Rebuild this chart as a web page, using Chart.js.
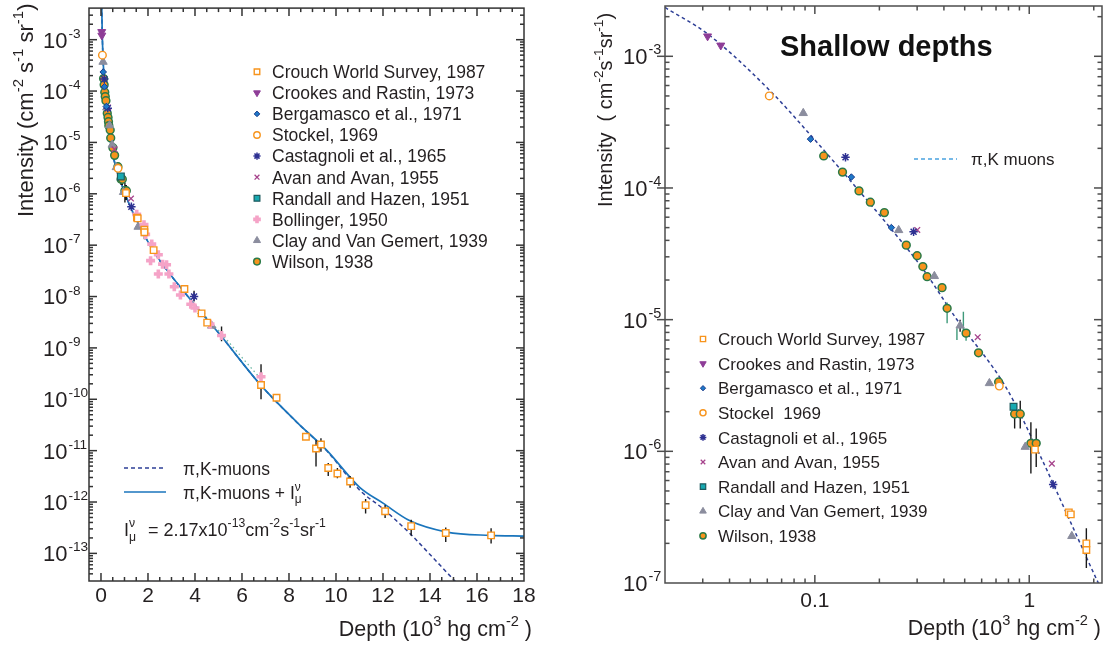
<!DOCTYPE html>
<html><head><meta charset="utf-8">
<script src="https://cdn.jsdelivr.net/npm/chart.js@4.4.1/dist/chart.umd.min.js"></script>
<style>
html,body{margin:0;padding:0;background:#fff;width:1108px;height:648px;overflow:hidden}
#wrap{position:relative;width:1108px;height:648px}
canvas{position:absolute;top:0}
#c1{left:0}
#c2{left:560px}
</style></head><body>
<div id="wrap"><canvas id="c1" width="560" height="648"></canvas><canvas id="c2" width="548" height="648"></canvas></div>
<script>
// ---------------- DATA (depth in 10^3 hg cm^-2, intensity in cm^-2 s^-1 sr^-1) ----------------
const crouchX = [1.063, 1.53, 1.563, 1.847, 1.847, 2.24, 3.55, 4.28, 4.52, 6.81, 7.47, 8.72, 9.15, 9.36, 9.67, 10.06, 10.6, 11.26, 12.09, 13.2, 14.67, 16.6];
const crouchY = [1.03e-6, 3.44e-7, 3.32e-7, 2.0e-7, 1.78e-7, 8.0e-8, 1.4e-8, 4.7e-9, 3.1e-9, 1.9e-10, 1.07e-10, 1.86e-11, 1.1e-11, 1.32e-11, 4.6e-12, 3.6e-12, 2.5e-12, 8.7e-13, 6.6e-13, 3.4e-13, 2.5e-13, 2.24e-13];
const crookesX = [0.0316, 0.0364];
const crookesY = [1.42e-3, 1.21e-3];
const bergX = [0.0955, 0.148, 0.2275, 4.27];
const bergY = [2.35e-4, 1.21e-4, 5.0e-5, 4.7e-9];
const stockelX = [0.0613, 0.725];
const stockelY = [5.0e-4, 3.13e-6];
const castX = [0.139, 0.2888, 1.293, 3.96];
const castY = [1.71e-4, 4.65e-5, 5.6e-7, 1.0e-8];
const avanX = [0.3005, 0.575, 1.275];
const avanY = [4.8e-5, 7.36e-6, 8.07e-7];
const randallX = [0.845];
const randallY = [2.18e-6];
const bollX = [1.52, 1.83, 1.90, 2.16, 2.11, 2.44, 2.44, 2.62, 2.79, 2.89, 3.12, 3.38, 3.82, 4.0, 4.64, 5.13, 6.81];
const bollY = [3.98e-7, 2.51e-7, 1.62e-7, 1.05e-7, 5.0e-8, 6.5e-8, 2.75e-8, 4.27e-8, 4.17e-8, 2.75e-8, 1.55e-8, 1.07e-8, 7.1e-9, 6.0e-9, 2.9e-9, 1.74e-9, 2.75e-10];
const clayX = [0.0883, 0.246, 0.361, 0.476, 0.652, 0.958, 1.58, 4.71];
const clayY = [3.7e-4, 4.78e-5, 2.14e-5, 9.0e-6, 3.29e-6, 1.08e-6, 2.27e-7, 2.7e-9];
const wilsonX = [0.110, 0.1346, 0.1607, 0.1815, 0.211, 0.267, 0.30, 0.319, 0.334, 0.392, 0.414, 0.5075, 0.58, 0.72, 0.855, 0.908, 1.018, 1.078];
const wilsonY = [1.75e-4, 1.32e-4, 9.5e-5, 7.8e-5, 6.5e-5, 3.68e-5, 3.06e-5, 2.53e-5, 2.12e-5, 1.75e-5, 1.22e-5, 7.9e-6, 5.6e-6, 3.36e-6, 1.92e-6, 1.92e-6, 1.15e-6, 1.15e-6];

// error bars (black and green)
const errBlackX  = [0.476, 0.855, 0.908, 1.018, 1.078, 1.847, 3.96, 5.13, 6.81, 8.72, 9.15, 9.36, 9.67, 10.06, 10.6, 11.26, 12.09, 13.2, 14.67, 16.6];
const errBlackLo = [8.1e-6, 1.49e-6, 1.49e-6, 6.8e-7, 7.6e-7, 1.3e-7, 8.0e-9, 1.35e-9, 1.0e-10, 1.65e-11, 4.9e-12, 9.5e-12, 3.2e-12, 2.9e-12, 1.9e-12, 6.0e-13, 4.9e-13, 2.2e-13, 1.66e-13, 1.55e-13];
const errBlackHi = [1.0e-5, 2.30e-6, 2.42e-6, 1.66e-6, 1.49e-6, 2.6e-7, 1.3e-8, 2.6e-9, 4.8e-10, 2.1e-11, 1.6e-11, 1.74e-11, 5.75e-12, 4.6e-12, 3.2e-12, 1.15e-12, 8.7e-13, 4.5e-13, 3.2e-13, 3.1e-13];
const errGreenX  = [0.414, 0.46, 0.493, 0.5075];
const errGreenLo = [9.4e-6, 7.0e-6, 8.1e-6, 6.9e-6];
const errGreenHi = [1.35e-5, 8.6e-6, 1.15e-5, 7.9e-6];

// model curves, left panel
const fullX = [0.025, 0.06, 0.17, 0.41, 1.03, 2.08, 3.7, 5.06, 6.77, 8.33, 9.62, 11.02, 12.0, 13.15, 14.71, 16.55, 18];
const fullY = [6.3e-3, 1.0e-3, 1.0e-4, 1.0e-5, 1.0e-6, 1.0e-7, 1.0e-8, 1.82e-9, 1.95e-10, 3.6e-11, 1.0e-11, 1.9e-12, 9.5e-13, 4.3e-13, 2.6e-13, 2.24e-13, 2.17e-13];
const pikX = [0.025, 0.06, 0.17, 0.41, 1.03, 2.08, 3.7, 5.06, 6.77, 8.33, 9.62, 11.02, 12.0, 13.2, 14.0, 15.06, 15.5];
const pikY = [6.3e-3, 1.0e-3, 1.0e-4, 1.0e-5, 1.0e-6, 1.0e-7, 1.0e-8, 1.82e-9, 1.95e-10, 3.58e-11, 9.8e-12, 1.68e-12, 7.4e-13, 2.3e-13, 9.5e-14, 2.9e-14, 1.8e-14];
const dotX = [4.2, 5.0, 5.8, 6.8];
const dotY = [5.4e-9, 2.2e-9, 8.3e-10, 2.5e-10];
// model curve, right panel
const shallowX = [0.02, 0.0316, 0.0613, 0.0955, 0.1346, 0.222, 0.319, 0.456, 0.78, 1.113, 1.59, 2.1, 2.25];
const shallowY = [2.35e-3, 1.48e-3, 5.55e-4, 2.52e-4, 1.33e-4, 5.1e-5, 2.43e-5, 1.02e-5, 3.05e-6, 9.6e-7, 2.7e-7, 1.0e-7, 8.0e-8];

// tick labels
const leftXTicks = [0, 2, 4, 6, 8, 10, 12, 14, 16, 18];
const rightXTicks = [0.1, 1];
const leftDecades = [-13, -12, -11, -10, -9, -8, -7, -6, -5, -4, -3];
const rightDecades = [-7, -6, -5, -4, -3];

// ---------------- STYLES ----------------
const FONT = '"Liberation Sans", Arial, Helvetica, sans-serif';
const TXT = '#231f20';
const STY = {
  crouch:  {label:'Crouch World Survey, 1987', x:crouchX, y:crouchY, ps:'rect', r:4.6, fill:'#ffffff', stroke:'#f7941d', bw:1.4},
  crookes: {label:'Crookes and Rastin, 1973', x:crookesX, y:crookesY, ps:'triangle', rot:180, r:4.6, fill:'#8e3d97', stroke:'#8e3d97', bw:1},
  berg:    {label:'Bergamasco et al., 1971', x:bergX, y:bergY, ps:'rectRot', r:3.3, fill:'#1f78c8', stroke:'#1b3d8c', bw:1},
  stockel: {label:'Stockel, 1969', rlabel:'Stockel  1969', x:stockelX, y:stockelY, ps:'circle', r:3.8, fill:'#ffffff', stroke:'#f7941d', bw:1.4},
  cast:    {label:'Castagnoli et al., 1965', x:castX, y:castY, ps:'star', r:4.2, fill:'#2e3192', stroke:'#2e3192', bw:1.5},
  avan:    {label:'Avan and Avan, 1955', x:avanX, y:avanY, ps:'crossRot', r:4, fill:'#a6438c', stroke:'#a6438c', bw:1.3},
  randall: {label:'Randall and Hazen, 1951', x:randallX, y:randallY, ps:'rect', r:4.8, fill:'#17a9b1', stroke:'#1d5a5e', bw:1.2},
  boll:    {label:'Bollinger, 1950', x:bollX, y:bollY, ps:'cross', r:4.5, fill:'#f5a3c7', stroke:'#f5a3c7', bw:3.6},
  clay:    {label:'Clay and Van Gemert, 1939', x:clayX, y:clayY, ps:'triangle', r:4.8, fill:'#8b8d9e', stroke:'#8b8d9e', bw:1},
  wilson:  {label:'Wilson, 1938', x:wilsonX, y:wilsonY, ps:'circle', r:3.9, fill:'#f7941d', stroke:'#2a7a48', bw:1.5}
};
const leftKeys  = ['crouch','crookes','berg','stockel','cast','avan','randall','boll','clay','wilson'];
const rightKeys = ['crouch','crookes','berg','stockel','cast','avan','randall','clay','wilson'];

// ---------------- HELPERS ----------------
const zip = (xs, ys) => xs.map((x, i) => ({x, y: ys[i]}));
const errPts = (xs, lo, hi) => { const o = []; xs.forEach((x, i) => { o.push({x, y: lo[i]}, {x, y: hi[i]}, {x, y: null}); }); return o; };
function setFont(ctx, size, weight){ ctx.font = (weight || 'normal') + ' ' + size + 'px ' + FONT; }
function richWidth(ctx, parts, size, weight, ratio){
  let w = 0;
  for (const p of parts){
    if (typeof p === 'string'){ setFont(ctx, size, weight); w += ctx.measureText(p).width; }
    else { setFont(ctx, size*ratio, weight); w += (p.pre || 0) + Math.max(p.sup ? ctx.measureText(p.sup).width : 0, p.sub ? ctx.measureText(p.sub).width : 0) + (p.gap || 0); }
  }
  return w;
}
function drawRich(ctx, parts, x, y, size, o){
  o = o || {};
  const weight = o.weight || 'normal', ratio = o.ratio || 0.68;
  const w = richWidth(ctx, parts, size, weight, ratio);
  let cx = o.align === 'center' ? x - w/2 : o.align === 'right' ? x - w : x;
  ctx.fillStyle = o.color || TXT; ctx.textAlign = 'left'; ctx.textBaseline = 'alphabetic';
  for (const p of parts){
    if (typeof p === 'string'){ setFont(ctx, size, weight); ctx.fillText(p, cx, y); cx += ctx.measureText(p).width; }
    else {
      setFont(ctx, size*ratio, weight); let ww = 0; cx += (p.pre || 0);
      if (p.sup){ ctx.fillText(p.sup, cx, y - size*0.45); ww = Math.max(ww, ctx.measureText(p.sup).width); }
      if (p.sub){ ctx.fillText(p.sub, cx, y + size*0.28); ww = Math.max(ww, ctx.measureText(p.sub).width); }
      cx += ww + (p.gap || 0);
    }
  }
}
function marker(ctx, s, x, y, scale){
  ctx.save();
  ctx.fillStyle = s.fill; ctx.strokeStyle = s.stroke; ctx.lineWidth = s.bw; ctx.setLineDash([]);
  Chart.helpers.drawPoint(ctx, {pointStyle: s.ps, rotation: s.rot || 0, radius: s.r*scale, borderWidth: s.bw}, x, y);
  ctx.restore();
}
function logTicks(eMin, eMax, vMin, vMax){
  const t = [];
  for (let e = eMin; e <= eMax; e++) for (let m = 1; m <= 9; m++){
    const v = m * Math.pow(10, e);
    if (v >= vMin*0.999 && v <= vMax*1.001) t.push({v, major: m === 1, e});
  }
  return t;
}
function markerDS(s){
  return {type:'scatter', label:s.label, data: zip(s.x, s.y), pointStyle: s.ps, pointRadius: s.r, pointHoverRadius: s.r,
    pointRotation: s.rot || 0, pointBackgroundColor: s.fill, pointBorderColor: s.stroke, pointBorderWidth: s.bw, showLine:false, order:0};
}
function lineDS(label, xs, ys, color, width, dash, order){
  return {type:'scatter', label, data: zip(xs, ys), showLine:true, pointRadius:0, pointHoverRadius:0, borderColor:color,
    borderWidth:width, borderDash:dash, tension:0.4, cubicInterpolationMode:'monotone', fill:false, order};
}
function errDS(xs, lo, hi, color){
  return {type:'scatter', label:'err', data: errPts(xs, lo, hi), showLine:true, spanGaps:false, pointRadius:0, pointHoverRadius:0,
    borderColor:color, borderWidth:1.4, tension:0, fill:false, order:1};
}
function makeDeco(o){
  return {
    id: 'deco' + o.name,
    afterDraw(chart){
      const ctx = chart.ctx, a = chart.chartArea, xs = chart.scales.x, ys = chart.scales.y;
      ctx.save();
      ctx.strokeStyle = o.axisColor; ctx.lineWidth = o.axisWidth; ctx.setLineDash([]);
      const seg = (x1, y1, x2, y2) => { ctx.beginPath(); ctx.moveTo(x1, y1); ctx.lineTo(x2, y2); ctx.stroke(); };
      for (const t of o.xTicks){
        const px = xs.getPixelForValue(t.v); if (px < a.left + 1 || px > a.right - 1) continue;
        const L = t.major ? o.major : o.minor; seg(px, a.bottom, px, a.bottom - L); seg(px, a.top, px, a.top + L);
      }
      for (const t of o.yTicks){
        const py = ys.getPixelForValue(t.v); if (py < a.top + 1 || py > a.bottom - 1) continue;
        const L = t.major ? o.major : o.minor;
        seg(a.left - (t.major && o.crossLeft ? L : 0), py, a.left + L, py); seg(a.right, py, a.right - L, py);
      }
      ctx.strokeRect(a.left, a.top, a.right - a.left, a.bottom - a.top);
      for (const t of o.yTicks){
        if (!t.major || o.decades.indexOf(t.e) < 0) continue;
        const py = ys.getPixelForValue(t.v);
        drawRich(ctx, ['10', {sup: String(t.e), pre:1}], o.labelX, py + o.tickFont*0.36, o.tickFont, {ratio:o.supRatio});
      }
      o.extra(ctx, chart);
      ctx.restore();
    }
  };
}
function baseOptions(o){
  return {
    responsive:false, animation:false, events:[],
    layout:{padding:{top:1, right:o.padRight, left:0, bottom:0}},
    plugins:{legend:{display:false}, tooltip:{enabled:false}, title:{display:false}},
    scales:{
      x:{type:o.xType, min:o.xMin, max:o.xMax, position:'bottom',
        grid:{display:false, drawTicks:false}, border:{display:false},
        afterBuildTicks: s => { s.ticks = o.xLabels.map(v => ({value:v})); },
        afterFit: s => { s.height = o.xHeight; },
        ticks:{autoSkip:false, maxRotation:0, minRotation:0, padding:o.xPad, color:TXT, font:{family:FONT, size:21}, callback: v => String(v)}},
      y:{type:'logarithmic', min:o.yMin, max:o.yMax, position:'left',
        grid:{display:false, drawTicks:false}, border:{display:false},
        ticks:{display:false}, afterFit: s => { s.width = o.yWidth; }}
    }
  };
}

// ---------------- LEFT CHART ----------------
const leftXMinor = []; for (let v = 0; v <= 18; v += 0.5) leftXMinor.push({v, major: v % 2 === 0});
const leftDeco = makeDeco({
  name:'L', axisColor:'#333', axisWidth:1.5, major:8, minor:4, crossLeft:false, labelX:43, tickFont:22, supRatio:0.62,
  decades: leftDecades,
  xTicks: leftXMinor, yTicks: logTicks(-14, -2, 2.9e-14, 4.12e-3),
  extra(ctx){
    leftKeys.forEach((k, i) => {
      const s = STY[k], cy = 71.7 + i*21.1;
      marker(ctx, s, 257, cy, 0.85);
      drawRich(ctx, [s.label], 272, cy + 6.3, 17.5);
    });
    ctx.save(); ctx.lineWidth = 1.5; ctx.strokeStyle = '#2e3f96'; ctx.setLineDash([4,3]);
    ctx.beginPath(); ctx.moveTo(124, 468); ctx.lineTo(166, 468); ctx.stroke();
    ctx.setLineDash([]); ctx.strokeStyle = '#1a75bc'; ctx.lineWidth = 1.7;
    ctx.beginPath(); ctx.moveTo(124, 492); ctx.lineTo(166, 492); ctx.stroke(); ctx.restore();
    drawRich(ctx, ['\u03c0,K-muons'], 183, 474.5, 17.5);
    drawRich(ctx, ['\u03c0,K-muons + I', {sup:'\u03bd', sub:'\u03bc'}], 183, 498.5, 17.5);
    drawRich(ctx, ['I', {sup:'\u03bd', sub:'\u03bc', gap:2}, '  = 2.17x10', {sup:'-13'}, 'cm', {sup:'-2'}, 's', {sup:'-1'}, 'sr', {sup:'-1'}], 124, 535.5, 18);
    drawRich(ctx, ['Depth (10', {sup:'3'}, ' hg cm', {sup:'-2'}, ' )'], 532, 636, 21.5, {align:'right'});
    ctx.save(); ctx.translate(33, 217); ctx.rotate(-Math.PI/2);
    drawRich(ctx, ['Intensity (cm', {sup:'-2'}, ' s', {sup:'-1'}, ' sr', {sup:'-1'}, ')'], 0, 0, 22);
    ctx.restore();
  }
});
const leftDatasets = leftKeys.map(k => markerDS(STY[k])).concat([
  errDS(errBlackX, errBlackLo, errBlackHi, '#1a1a1a'),
  errDS(errGreenX, errGreenLo, errGreenHi, '#3f9a7a'),
  lineDS('\u03c0,K-muons + I\u03bc\u03bd', fullX, fullY, '#1a75bc', 1.7, [], 2),
  lineDS('\u03c0,K-muons', pikX, pikY, '#2e3f96', 1.5, [4,3], 3),
  lineDS('fit', dotX, dotY, '#6db8a4', 1.3, [1.5,3], 4)
]);
new Chart(document.getElementById('c1'), {
  type:'scatter',
  data:{datasets: leftDatasets},
  options: baseOptions({padRight:36, xType:'linear', xMin:-0.51, xMax:18, xLabels:leftXTicks, xHeight:67, xPad:3,
    yMin:2.9e-14, yMax:4.12e-3, yWidth:89}),
  plugins:[leftDeco]
});

// ---------------- RIGHT CHART ----------------
const rightDeco = makeDeco({
  name:'R', axisColor:'#4d4d4d', axisWidth:1.5, major:8, minor:4.5, crossLeft:true, labelX:63, tickFont:22, supRatio:0.66,
  decades: rightDecades,
  xTicks: logTicks(-2, 0, 0.02, 2.185), yTicks: logTicks(-7, -3, 1e-7, 2.41e-3),
  extra(ctx){
    drawRich(ctx, ['Shallow depths'], 220, 56, 29, {weight:'bold', color:'#111'});
    rightKeys.forEach((k, i) => {
      const s = STY[k], cy = 339 + i*24.6;
      marker(ctx, s, 143, cy, 0.8);
      drawRich(ctx, [s.rlabel || s.label], 158, cy + 6.1, 17);
    });
    ctx.save(); ctx.lineWidth = 1.6; ctx.strokeStyle = '#4aa3df'; ctx.setLineDash([4,3]);
    ctx.beginPath(); ctx.moveTo(354, 159); ctx.lineTo(397, 159); ctx.stroke(); ctx.restore();
    drawRich(ctx, ['\u03c0,K muons'], 411, 165.2, 17);
    drawRich(ctx, ['Depth (10', {sup:'3'}, ' hg cm', {sup:'-2'}, ' )'], 541, 635, 21.5, {align:'right'});
    ctx.save(); ctx.translate(51.7, 207); ctx.rotate(-Math.PI/2);
    drawRich(ctx, ['Intensity  ( cm', {sup:'-2'}, 's', {sup:'-1'}, 'sr', {sup:'-1'}, ')'], 0, 0, 20);
    ctx.restore();
  }
});
const rightDatasets = rightKeys.map(k => markerDS(STY[k])).concat([
  errDS(errBlackX, errBlackLo, errBlackHi, '#1a1a1a'),
  errDS(errGreenX, errGreenLo, errGreenHi, '#3f9a7a'),
  lineDS('\u03c0,K muons', shallowX, shallowY, '#2e3f96', 1.5, [3.5,3], 3)
]);
new Chart(document.getElementById('c2'), {
  type:'scatter',
  data:{datasets: rightDatasets},
  options: baseOptions({padRight:5, xType:'logarithmic', xMin:0.02, xMax:2.185, xLabels:rightXTicks, xHeight:65, xPad:6,
    yMin:1e-7, yMax:2.41e-3, yWidth:105}),
  plugins:[rightDeco]
});
</script>
</body></html>
